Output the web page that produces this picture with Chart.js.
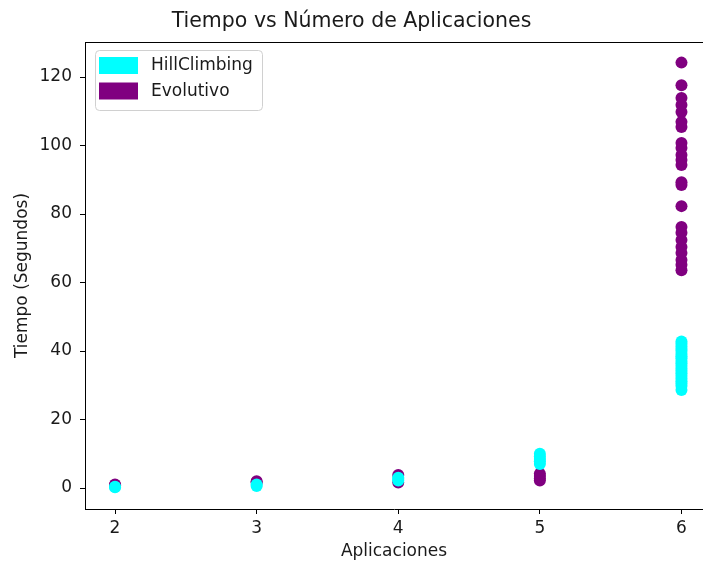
<!DOCTYPE html>
<html>
<head>
<meta charset="utf-8">
<title>Tiempo vs Número de Aplicaciones</title>
<script src="https://cdn.jsdelivr.net/npm/chart.js@4/dist/chart.umd.min.js"></script>
<style>
  html, body { margin: 0; padding: 0; background: #fff; }
  #wrap { width: 703px; height: 565px; }
</style>
</head>
<body>
<div id="wrap"><canvas id="tiempos" width="703" height="565"></canvas></div>
<script>
// Number of applications tested (x axis)
const aplicaciones = [2, 3, 4, 5, 6];

// Run times in seconds, one list per number of applications
const tiemposHill = [
  [0.2, 0.4],
  [0.6, 1.0],
  [2.2, 2.6, 3.0],
  [7.0, 7.8, 8.5, 9.2, 10.0],
  [42.8, 42.1, 41.3, 40.6, 40.0, 39.2, 38.5, 37.9, 37.1, 36.4, 35.7, 34.9,
   34.2, 33.5, 32.8, 32.0, 31.2, 30.5, 29.8, 28.6]
];
const tiemposEvo = [
  [1.0, 0.8],
  [2.0, 1.6],
  [3.8, 1.6],
  [4.2, 3.5, 2.8, 2.2],
  [124.2, 117.6, 113.9, 111.8, 109.8, 106.9, 105.4, 100.7, 99.3, 97.2, 95.8,
   94.3, 89.3, 88.5, 82.3, 76.2, 74.5, 72.4, 70.4, 68.6, 66.6, 65.2, 63.6]
];

const yTicks = [0, 20, 40, 60, 80, 100, 120];

function toPoints(tiempos) {
  const pts = [];
  aplicaciones.forEach((n, i) => {
    tiempos[i].forEach((t) => pts.push({ x: n, y: t }));
  });
  return pts;
}

const FONT = "'DejaVu Sans', sans-serif";
const TEXT = "#1a1a1a";

// legend box in the upper left corner of the plot, with a light frame
const boxLegend = {
  id: "boxLegend",
  afterDraw(chart) {
    const ctx = chart.ctx;
    const a = chart.chartArea;
    const x = a.left + 10, y = a.top + 8, w = 167, h = 60;
    ctx.save();
    ctx.fillStyle = "rgba(255,255,255,0.8)";
    ctx.strokeStyle = "#d0d0d0";
    ctx.lineWidth = 1;
    ctx.beginPath();
    ctx.roundRect(x + 0.5, y + 0.5, w, h, 4);
    ctx.fill();
    ctx.stroke();
    ctx.font = "17px " + FONT;
    ctx.textBaseline = "middle";
    chart.data.datasets.forEach((ds, i) => {
      const ry = y + 7 + i * 25.5;
      ctx.fillStyle = ds.backgroundColor;
      ctx.fillRect(x + 4, ry, 39, 17);
      ctx.fillStyle = TEXT;
      ctx.fillText(ds.label, x + 56, ry + 9);
    });
    ctx.restore();
  }
};

// top spine of the axes frame
const topSpine = {
  id: "topSpine",
  afterDatasetsDraw(chart) {
    const ctx = chart.ctx;
    const a = chart.chartArea;
    ctx.save();
    ctx.strokeStyle = "#000";
    ctx.lineWidth = 1;
    ctx.beginPath();
    ctx.moveTo(a.left, a.top + 0.5);
    ctx.lineTo(a.right, a.top + 0.5);
    ctx.stroke();
    ctx.restore();
  }
};

new Chart(document.getElementById("tiempos"), {
  type: "scatter",
  data: {
    datasets: [
      {
        label: "HillClimbing",
        data: toPoints(tiemposHill),
        backgroundColor: "#00ffff",
        borderWidth: 0,
        pointRadius: 6,
        pointHoverRadius: 6
      },
      {
        label: "Evolutivo",
        data: toPoints(tiemposEvo),
        backgroundColor: "#800080",
        borderWidth: 0,
        pointRadius: 6,
        pointHoverRadius: 6
      }
    ]
  },
  options: {
    responsive: false,
    animation: false,
    layout: { padding: 0, autoPadding: false },
    plugins: {
      legend: { display: false },
      tooltip: { enabled: false },
      title: {
        display: true,
        text: "Tiempo vs Número de Aplicaciones",
        color: TEXT,
        font: { family: FONT, size: 20.5, weight: "normal" },
        padding: { top: 9, bottom: 8.4 }
      }
    },
    scales: {
      x: {
        type: "linear",
        min: 1.788,
        max: 6.152,
        afterBuildTicks(scale) {
          scale.ticks = aplicaciones.map((v) => ({ value: v }));
        },
        afterFit(scale) {
          scale.height = 56;
          scale.paddingLeft = 0;
          scale.paddingRight = 0;
        },
        grid: { drawOnChartArea: false, drawTicks: true, tickLength: 5, color: "#000" },
        border: { color: "#000", width: 1 },
        ticks: { color: TEXT, padding: 4, font: { family: FONT, size: 17 } },
        title: {
          display: true,
          text: "Aplicaciones",
          color: TEXT,
          font: { family: FONT, size: 17 },
          padding: { top: 0, bottom: 3 }
        }
      },
      y: {
        min: -6.13,
        max: 130.22,
        afterBuildTicks(scale) {
          scale.ticks = yTicks.map((v) => ({ value: v }));
        },
        afterFit(scale) {
          scale.width = 85;
          scale.paddingTop = 0;
          scale.paddingBottom = 0;
        },
        grid: { drawOnChartArea: false, drawTicks: true, tickLength: 5, color: "#000" },
        border: { color: "#000", width: 1 },
        ticks: { color: TEXT, padding: 8, font: { family: FONT, size: 17 } },
        title: {
          display: true,
          text: "Tiempo (Segundos)",
          color: TEXT,
          font: { family: FONT, size: 17 },
          padding: { top: 12, bottom: 0 }
        }
      }
    }
  },
  plugins: [boxLegend, topSpine]
});
</script>
</body>
</html>
